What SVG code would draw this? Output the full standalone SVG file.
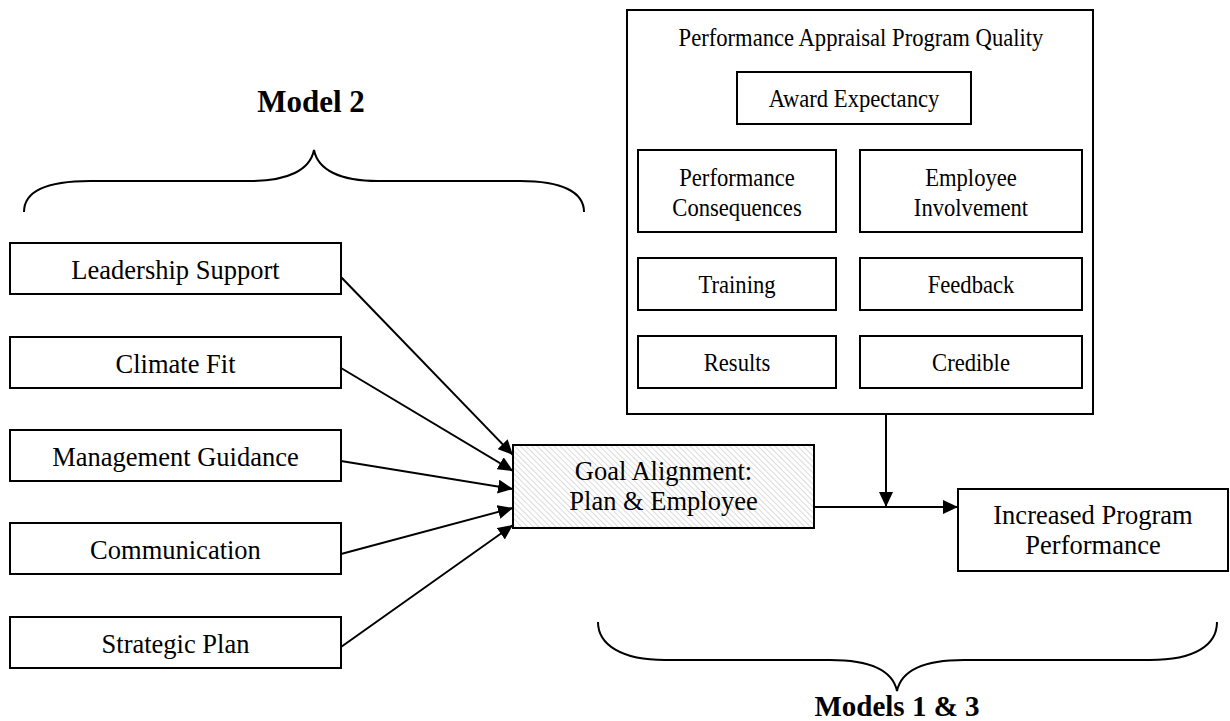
<svg xmlns="http://www.w3.org/2000/svg" width="1230" height="721" viewBox="0 0 1230 721">
<style>
.box{fill:#fff;stroke:#000;stroke-width:2}
.t{font-family:"Liberation Serif","Times New Roman",serif;font-size:26.5px;fill:#000;text-anchor:middle}
.s{font-family:"Liberation Serif","Times New Roman",serif;font-size:26px;fill:#000;text-anchor:middle}
.b{font-family:"Liberation Serif","Times New Roman",serif;font-weight:bold;fill:#000;text-anchor:middle}
.ln{fill:none;stroke:#000;stroke-width:2}
.br{fill:none;stroke:#000;stroke-width:2}
</style>
<defs>
<marker id="ah" markerUnits="userSpaceOnUse" markerWidth="16" markerHeight="14" refX="15" refY="7" orient="auto">
<path d="M0,0 L15,7 L0,14 z" fill="#000"/>
</marker>
<pattern id="hatch" patternUnits="userSpaceOnUse" width="4" height="4" patternTransform="rotate(-45)">
<rect width="4" height="4" fill="#fff"/>
<line x1="0" y1="0" x2="0" y2="4" stroke="#c8c8c8" stroke-width="1.3"/>
</pattern>
</defs>
<rect width="1230" height="721" fill="#fff"/>

<g id="label-model2"><text class="b" x="311" y="112" font-size="31">Model 2</text></g>
<g id="brace-top"><path class="br" d="M24,212 C24,192 46,181 90,181 L250,181 C288,181 310,170 314,150 C318,170 340,181 378,181 L520,181 C562,181 584,192 584,212"/></g>

<g id="leadership"><rect class="box" x="10" y="243" width="331" height="51"/><text class="t" x="175.5" y="279">Leadership Support</text></g>
<g id="climate"><rect class="box" x="10" y="337" width="331" height="51"/><text class="t" x="175.5" y="373">Climate Fit</text></g>
<g id="management"><rect class="box" x="10" y="430" width="331" height="51"/><text class="t" x="175.5" y="466">Management Guidance</text></g>
<g id="communication"><rect class="box" x="10" y="523" width="331" height="51"/><text class="t" x="175.5" y="559">Communication</text></g>
<g id="strategic"><rect class="box" x="10" y="617" width="331" height="51"/><text class="t" x="175.5" y="653">Strategic Plan</text></g>

<g id="goal"><rect x="513" y="445" width="301" height="83" fill="url(#hatch)" stroke="#000" stroke-width="2"/><text class="t" x="663.5" y="480">Goal Alignment:</text><text class="t" x="663.5" y="510">Plan &amp; Employee</text></g>

<g id="papq">
<rect class="box" x="627" y="10" width="466" height="404"/>
<text class="s" transform="translate(861,46) scale(0.87,1)">Performance Appraisal Program Quality</text>
<g id="award"><rect class="box" x="737" y="72" width="234" height="52"/><text class="s" transform="translate(854,107) scale(0.87,1)">Award Expectancy</text></g>
<g id="consequences"><rect class="box" x="638" y="150" width="198" height="82"/><text class="s" transform="translate(737,186) scale(0.87,1)">Performance</text><text class="s" transform="translate(737,216) scale(0.87,1)">Consequences</text></g>
<g id="involvement"><rect class="box" x="860" y="150" width="222" height="82"/><text class="s" transform="translate(971,186) scale(0.87,1)">Employee</text><text class="s" transform="translate(971,216) scale(0.87,1)">Involvement</text></g>
<g id="training"><rect class="box" x="638" y="258" width="198" height="52"/><text class="s" transform="translate(737,293) scale(0.87,1)">Training</text></g>
<g id="feedback"><rect class="box" x="860" y="258" width="222" height="52"/><text class="s" transform="translate(971,293) scale(0.87,1)">Feedback</text></g>
<g id="results"><rect class="box" x="638" y="336" width="198" height="52"/><text class="s" transform="translate(737,371) scale(0.87,1)">Results</text></g>
<g id="credible"><rect class="box" x="860" y="336" width="222" height="52"/><text class="s" transform="translate(971,371) scale(0.87,1)">Credible</text></g>
</g>

<g id="increased"><rect class="box" x="958" y="489" width="270" height="82"/><text class="t" x="1093" y="524">Increased Program</text><text class="t" x="1093" y="554">Performance</text></g>

<g id="connectors">
<line class="ln" x1="341" y1="277" x2="513" y2="455" marker-end="url(#ah)"/>
<line class="ln" x1="341" y1="368" x2="513" y2="471" marker-end="url(#ah)"/>
<line class="ln" x1="341" y1="461" x2="513" y2="489" marker-end="url(#ah)"/>
<line class="ln" x1="341" y1="554" x2="513" y2="508" marker-end="url(#ah)"/>
<line class="ln" x1="341" y1="647" x2="513" y2="525" marker-end="url(#ah)"/>
<line class="ln" x1="814" y1="507" x2="958" y2="507" marker-end="url(#ah)"/>
<line class="ln" x1="886" y1="414" x2="886" y2="507" marker-end="url(#ah)"/>
</g>

<g id="brace-bottom"><path class="br" d="M598,622 C598,645 622,660 665,660 L830,660 C872,660 893,672 897,691 C901,672 922,660 964,660 L1150,660 C1195,660 1217,645 1217,622"/></g>
<g id="label-models13"><text class="b" x="897" y="716" font-size="29">Models 1 &amp; 3</text></g>
</svg>
